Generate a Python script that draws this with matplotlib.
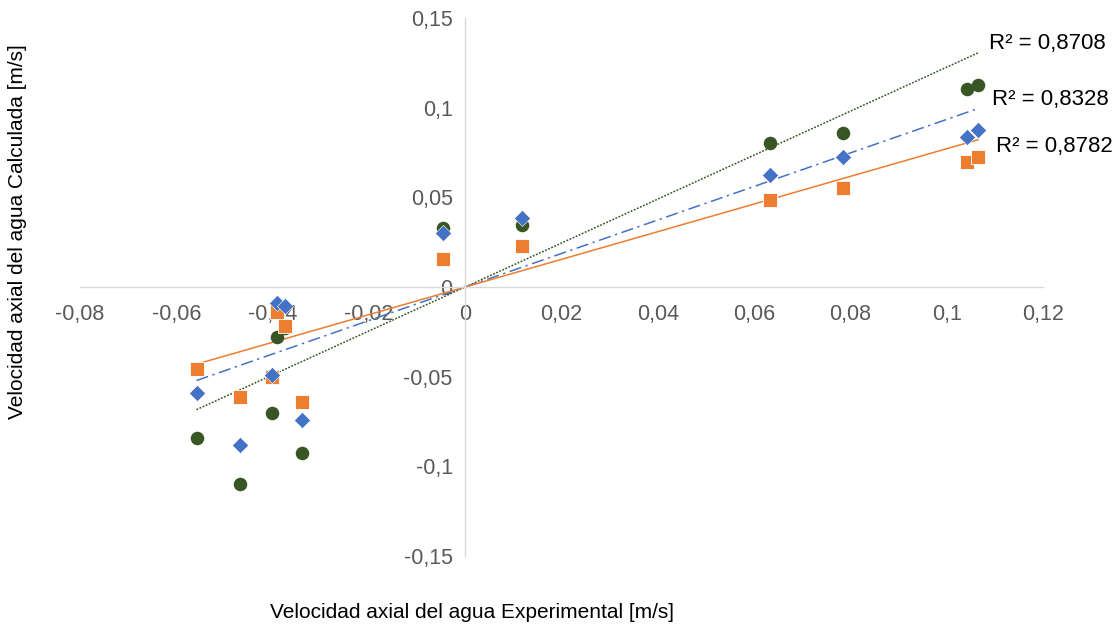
import numpy as np
import matplotlib
matplotlib.use("Agg")
import matplotlib.pyplot as plt

plt.rcParams['font.family'] = ['Liberation Sans', 'DejaVu Sans']

# Experimental axial water velocity [m/s]
x_exp = [-0.0558, -0.0467, -0.0401, -0.0390, -0.0374, -0.0338,
         -0.0046, 0.0118, 0.0633, 0.0785, 0.1042, 0.1065]

# Calculated axial water velocity for each model [m/s]
y_green = [-0.0842, -0.1099, -0.0703, -0.0279, -0.0229, -0.0926,
           0.0329, 0.0346, 0.0803, 0.0859, 0.1104, 0.1127]
y_blue = [-0.0591, -0.0881, -0.0491, -0.0089, -0.0106, -0.0742,
          0.0301, 0.0385, 0.0625, 0.0725, 0.0837, 0.0876]
y_orange = [-0.0457, -0.0613, -0.0502, -0.0140, -0.0218, -0.0641,
            0.0156, 0.0229, 0.0485, 0.0552, 0.0697, 0.0725]

r2_labels = ["R² = 0,8708", "R² = 0,8328", "R² = 0,8782"]

x_ticks = [-0.08, -0.06, -0.04, -0.02, 0, 0.02, 0.04, 0.06, 0.08, 0.1, 0.12]
x_ticklabels = ["-0,08", "-0,06", "-0,04", "-0,02", "0", "0,02", "0,04",
                "0,06", "0,08", "0,1", "0,12"]
y_ticks = [-0.15, -0.1, -0.05, 0, 0.05, 0.1, 0.15]
y_ticklabels = ["-0,15", "-0,1", "-0,05", "0", "0,05", "0,1", "0,15"]

GREEN = "#375623"
BLUE = "#4472C4"
ORANGE = "#ED7D31"

fig = plt.figure(figsize=(11.15, 6.31), dpi=100)
ax = fig.add_axes([80 / 1115, 75 / 631, 963 / 1115, 538 / 631])

ax.set_xlim(-0.08, 0.12)
ax.set_ylim(-0.15, 0.15)

for side in ("left", "bottom"):
    ax.spines[side].set_position("zero")
    ax.spines[side].set_color("#d9d9d9")
    ax.spines[side].set_linewidth(1.0)
ax.spines["top"].set_visible(False)
ax.spines["right"].set_visible(False)

ax.set_xticks(x_ticks)
ax.set_xticklabels(x_ticklabels)
ax.set_yticks(y_ticks)
ax.set_yticklabels(y_ticklabels)
ax.tick_params(axis="both", length=0, labelsize=15.5, labelcolor="#595959")
ax.tick_params(axis="x", pad=12)
ax.tick_params(axis="y", pad=9)

x = np.asarray(x_exp)


def origin_fit(y):
    y = np.asarray(y)
    slope = np.sum(x * y) / np.sum(x * x)
    xs = np.array([x.min(), x.max()])
    return xs, slope * xs


# points: green underneath, then orange, blue on top
ax.scatter(x, y_green, marker="o", s=95, color=GREEN, zorder=3, linewidths=0)
ax.scatter(x, y_orange, marker="s", s=115, color=ORANGE, zorder=4,
           edgecolors="white", linewidths=0.6)
ax.scatter(x, y_blue, marker="D", s=68, color=BLUE, zorder=5,
           edgecolors="white", linewidths=0.4)

# linear trend lines through the origin
xs, ys = origin_fit(y_green)
ax.plot(xs, ys, color=GREEN, linestyle=(0, (1.2, 1.0)), linewidth=1.1, zorder=2)
xs, ys = origin_fit(y_blue)
ax.plot(xs, ys, color=BLUE, linestyle=(0, (8, 3, 1.5, 3)), linewidth=1.1, zorder=2)
xs, ys = origin_fit(y_orange)
ax.plot(xs, ys, color=ORANGE, linestyle="-", linewidth=1.1, zorder=2)

label_pos = [(0.1088, 0.136), (0.1094, 0.1043), (0.1102, 0.0781)]
for (tx, ty), txt in zip(label_pos, r2_labels):
    ax.text(tx, ty, txt, fontsize=16, color="#000000", va="center", ha="left")

fig.text(18 / 1115, 1 - 232 / 631, "Velocidad axial del agua Calculada [m/s]",
         rotation=90, ha="center", va="center", fontsize=15, color="#000000")
fig.text(472 / 1115, 1 - 612 / 631, "Velocidad axial del agua Experimental [m/s]",
         ha="center", va="center", fontsize=15, color="#000000")

fig.savefig("out.png", dpi=100, facecolor="white")
